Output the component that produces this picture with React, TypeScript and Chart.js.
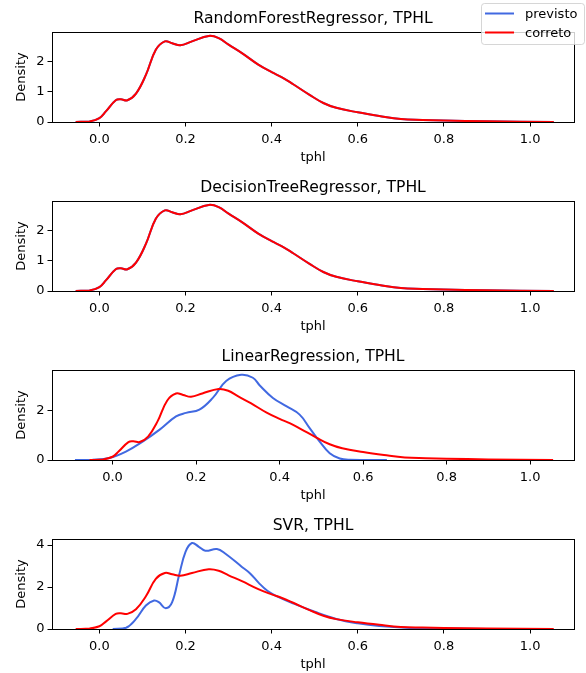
import React, { useEffect, useRef } from "react";
import { Chart, registerables } from "chart.js";

Chart.register(...registerables);

const FONT = "'DejaVu Sans', sans-serif";
const BLUE = "#4169e1";
const RED = "#ff0000";

const seriesNames = ["previsto", "correto"];
const panelTitles = [
  "RandomForestRegressor, TPHL",
  "DecisionTreeRegressor, TPHL",
  "LinearRegression, TPHL",
  "SVR, TPHL",
];
const xAxisLabel = "tphl";
const yAxisLabel = "Density";
const xTickValues = [0, 0.2, 0.4, 0.6, 0.8, 1.0];
const yTickValues = [
  [0, 1, 2],
  [0, 1, 2],
  [0, 2],
  [0, 2, 4],
];
const yMax = [2.98, 2.98, 3.61, 4.29];
const xMin = [-0.11, -0.11, -0.145, -0.11];
const xMax = [1.102, 1.102, 1.105, 1.102];

// correto (true values) KDE
const corretoX = [-0.055, -0.023, 0.0, 0.015, 0.038, 0.05, 0.065, 0.085, 0.108, 0.131, 0.152, 0.169, 0.188, 0.215, 0.254, 0.277, 0.3, 0.331, 0.369, 0.4, 0.424, 0.45, 0.488, 0.52, 0.55, 0.6, 0.65, 0.7, 0.75, 0.8, 0.9, 1.055];
const corretoY = [0, 0.02, 0.13, 0.35, 0.72, 0.75, 0.72, 0.94, 1.56, 2.39, 2.67, 2.61, 2.54, 2.67, 2.85, 2.78, 2.56, 2.28, 1.9, 1.65, 1.48, 1.25, 0.9, 0.63, 0.47, 0.32, 0.2, 0.1, 0.07, 0.05, 0.025, 0];

// previsto (predicted) KDEs
const rfPrevistoX = [-0.055, -0.023, 0.0, 0.015, 0.038, 0.05, 0.065, 0.085, 0.108, 0.131, 0.152, 0.169, 0.188, 0.215, 0.254, 0.277, 0.3, 0.331, 0.369, 0.4, 0.424, 0.45, 0.488, 0.52, 0.55, 0.6, 0.65, 0.7, 0.75, 0.8, 0.9, 1.055];
const rfPrevistoY = [0, 0.02, 0.13, 0.35, 0.72, 0.75, 0.72, 0.94, 1.56, 2.39, 2.67, 2.61, 2.54, 2.67, 2.85, 2.78, 2.56, 2.28, 1.9, 1.65, 1.48, 1.25, 0.9, 0.63, 0.47, 0.32, 0.2, 0.1, 0.07, 0.05, 0.025, 0];
const dtPrevistoX = [-0.055, -0.023, 0.0, 0.015, 0.038, 0.05, 0.065, 0.085, 0.108, 0.131, 0.152, 0.169, 0.188, 0.215, 0.254, 0.277, 0.3, 0.331, 0.369, 0.4, 0.424, 0.45, 0.488, 0.52, 0.55, 0.6, 0.65, 0.7, 0.75, 0.8, 0.9, 1.055];
const dtPrevistoY = [0, 0.02, 0.13, 0.35, 0.72, 0.75, 0.72, 0.94, 1.56, 2.39, 2.67, 2.61, 2.54, 2.67, 2.85, 2.78, 2.56, 2.28, 1.9, 1.65, 1.48, 1.25, 0.9, 0.63, 0.47, 0.32, 0.2, 0.1, 0.07, 0.05, 0.025, 0];
const lrPrevistoX = [-0.09, -0.048, -0.008, 0.032, 0.072, 0.112, 0.152, 0.176, 0.208, 0.24, 0.272, 0.308, 0.336, 0.352, 0.384, 0.416, 0.448, 0.472, 0.496, 0.52, 0.544, 0.568, 0.657];
const lrPrevistoY = [0, 0.01, 0.08, 0.34, 0.74, 1.21, 1.75, 1.89, 2.02, 2.49, 3.17, 3.42, 3.3, 3.0, 2.49, 2.16, 1.82, 1.28, 0.74, 0.27, 0.06, 0.01, 0];
const svrPrevistoX = [0.031, 0.062, 0.085, 0.108, 0.127, 0.138, 0.154, 0.169, 0.185, 0.2, 0.215, 0.231, 0.246, 0.273, 0.292, 0.331, 0.35, 0.37, 0.39, 0.41, 0.45, 0.5, 0.55, 0.6, 0.65, 0.72, 0.8, 0.9, 1.0];
const svrPrevistoY = [0, 0.06, 0.48, 1.12, 1.36, 1.28, 0.99, 1.28, 2.56, 3.68, 4.1, 3.92, 3.73, 3.81, 3.6, 2.96, 2.65, 2.2, 1.82, 1.58, 1.22, 0.82, 0.48, 0.27, 0.14, 0.05, 0.02, 0.005, 0];

const previstoXs = [rfPrevistoX, dtPrevistoX, lrPrevistoX, svrPrevistoX];
const previstoYs = [rfPrevistoY, dtPrevistoY, lrPrevistoY, svrPrevistoY];

const toPoints = (xs: number[], ys: number[]) => xs.map((x, i) => ({ x, y: ys[i] }));

const boxPlugin = {
  id: "axesBox",
  afterDatasetsDraw(chart: any) {
    const { ctx, chartArea } = chart;
    const l = Math.round(chartArea.left) + 0.5;
    const t = Math.round(chartArea.top) + 0.5;
    const r = Math.round(chartArea.right) + 0.5;
    const b = Math.round(chartArea.bottom) + 0.5;
    ctx.save();
    ctx.strokeStyle = "#000";
    ctx.lineWidth = 1;
    ctx.strokeRect(l, t, r - l, b - t);
    ctx.restore();
  },
};

const figLegendPlugin = {
  id: "figLegend",
  afterDraw(chart: any) {
    const ctx = chart.ctx;
    const x0 = 481.5, y0 = 3.5, w = 103, h = 41, rad = 3;
    ctx.save();
    ctx.beginPath();
    ctx.moveTo(x0 + rad, y0);
    ctx.lineTo(x0 + w - rad, y0);
    ctx.arcTo(x0 + w, y0, x0 + w, y0 + rad, rad);
    ctx.lineTo(x0 + w, y0 + h - rad);
    ctx.arcTo(x0 + w, y0 + h, x0 + w - rad, y0 + h, rad);
    ctx.lineTo(x0 + rad, y0 + h);
    ctx.arcTo(x0, y0 + h, x0, y0 + h - rad, rad);
    ctx.lineTo(x0, y0 + rad);
    ctx.arcTo(x0, y0, x0 + rad, y0, rad);
    ctx.closePath();
    ctx.fillStyle = "rgba(255,255,255,0.8)";
    ctx.fill();
    ctx.strokeStyle = "rgba(204,204,204,0.8)";
    ctx.lineWidth = 1;
    ctx.stroke();
    const colors = [BLUE, RED];
    const rows = [13.5, 32.5];
    ctx.font = `13px ${FONT}`;
    ctx.textBaseline = "alphabetic";
    ctx.textAlign = "left";
    seriesNames.forEach((name, i) => {
      ctx.strokeStyle = colors[i];
      ctx.lineWidth = 2;
      ctx.beginPath();
      ctx.moveTo(485, rows[i]);
      ctx.lineTo(514, rows[i]);
      ctx.stroke();
      ctx.fillStyle = "#000";
      ctx.fillText(name, 525, rows[i] + 4.5);
    });
    ctx.restore();
  },
};

function Panel({ idx }: { idx: number }) {
  const ref = useRef<HTMLCanvasElement | null>(null);
  useEffect(() => {
    if (!ref.current) return;
    const plugins: any[] = [boxPlugin];
    if (idx === 0) plugins.push(figLegendPlugin);
    const chart = new Chart(ref.current, {
      type: "line",
      data: {
        datasets: [
          {
            label: seriesNames[0],
            data: toPoints(previstoXs[idx], previstoYs[idx]),
            borderColor: BLUE,
            backgroundColor: BLUE,
            borderWidth: 2,
            pointRadius: 0,
            fill: false,
            tension: 0.4,
            order: 1,
          },
          {
            label: seriesNames[1],
            data: toPoints(corretoX, corretoY),
            borderColor: RED,
            backgroundColor: RED,
            borderWidth: 2,
            pointRadius: 0,
            fill: false,
            tension: 0.4,
            order: 0,
          },
        ],
      },
      options: {
        animation: false,
        responsive: false,
        devicePixelRatio: 1,
        events: [],
        layout: { padding: { left: 0, right: 12, top: 0, bottom: 0 } },
        plugins: {
          legend: { display: false },
          tooltip: { enabled: false },
          title: {
            display: true,
            text: panelTitles[idx],
            fullSize: false,
            color: "#000",
            font: { family: FONT, size: 15.6, weight: "normal" },
            padding: { top: 10, bottom: 3.3 },
          },
        },
        scales: {
          x: {
            type: "linear",
            min: xMin[idx],
            max: xMax[idx],
            afterBuildTicks: (s: any) => {
              s.ticks = xTickValues.map((v) => ({ value: v }));
            },
            afterFit: (s: any) => {
              s.height = 47;
            },
            border: { display: false },
            grid: {
              drawOnChartArea: false,
              drawTicks: true,
              tickLength: 4.5,
              color: "#000",
              lineWidth: 1,
            },
            ticks: {
              color: "#000",
              font: { family: FONT, size: 13 },
              padding: 5,
              maxRotation: 0,
              autoSkip: false,
              callback: (v: any) => Number(v).toFixed(1),
            },
            title: {
              display: true,
              text: xAxisLabel,
              color: "#000",
              font: { family: FONT, size: 13 },
              padding: 3.8,
            },
          },
          y: {
            type: "linear",
            min: 0,
            max: yMax[idx],
            afterBuildTicks: (s: any) => {
              s.ticks = yTickValues[idx].map((v) => ({ value: v }));
            },
            afterFit: (s: any) => {
              s.width = 52;
            },
            border: { display: false },
            grid: {
              drawOnChartArea: false,
              drawTicks: true,
              tickLength: 4.5,
              color: "#000",
              lineWidth: 1,
            },
            ticks: {
              color: "#000",
              font: { family: FONT, size: 13 },
              padding: 3,
              callback: (v: any) => String(v),
            },
            title: {
              display: true,
              text: yAxisLabel,
              color: "#000",
              font: { family: FONT, size: 13 },
              padding: 14,
            },
          },
        },
      },
      plugins,
    } as any);
    return () => chart.destroy();
  }, [idx]);
  return (
    <canvas
      ref={ref}
      width={586}
      height={169}
      style={{ position: "absolute", left: 0, top: idx * 169, width: 586, height: 169, display: "block" }}
    />
  );
}

export default function App() {
  return (
    <div
      style={{
        position: "absolute",
        left: 0,
        top: 0,
        width: 586,
        height: 673,
        overflow: "hidden",
        background: "#fff",
      }}
    >
      {[0, 1, 2, 3].map((i) => (
        <Panel key={i} idx={i} />
      ))}
    </div>
  );
}
